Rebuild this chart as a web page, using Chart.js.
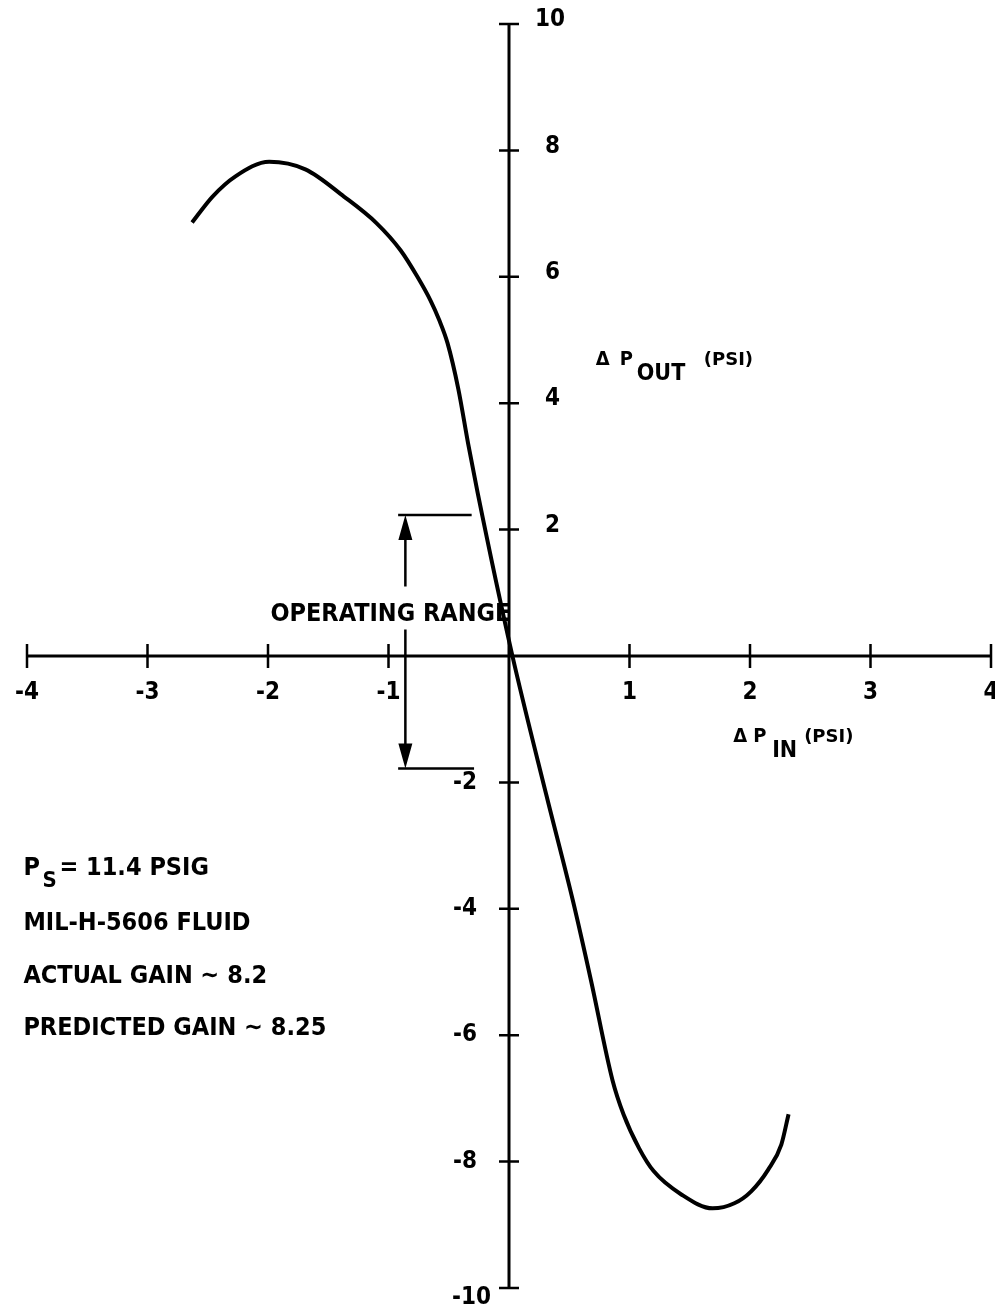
<!DOCTYPE html>
<html>
<head>
<meta charset="utf-8">
<script src="https://cdn.jsdelivr.net/npm/chart.js@4.4.1/dist/chart.umd.min.js"></script>
<style>
  html, body { margin: 0; padding: 0; background: #fff; }
  #wrap { width: 995px; height: 1313px; }
</style>
</head>
<body>
<div id="wrap"><canvas id="chart" width="995" height="1313"></canvas></div>
<script>
// curve (delta P in, delta P out)
const pIn = [-2.63, -2.46, -2.27, -1.99, -1.69, -1.37, -1.10, -0.90, -0.76, -0.65,
             -0.58, -0.51, -0.42, -0.34, -0.26, 0.025, 0.31, 0.53, 0.68, 0.86,
             0.95, 1.08, 1.20, 1.43, 1.69, 1.87, 2.01, 2.15, 2.26, 2.32];
const pOut = [6.86, 7.27, 7.59, 7.82, 7.70, 7.27, 6.85, 6.42, 6.00, 5.62,
              5.32, 4.95, 4.22, 3.37, 2.58, 0.03, -2.20, -3.87, -5.13, -6.72,
              -7.25, -7.79, -8.15, -8.52, -8.74, -8.66, -8.47, -8.13, -7.73, -7.25];

const xTicks = [-4, -3, -2, -1, 1, 2, 3, 4];
const yTicks = [-10, -8, -6, -4, -2, 2, 4, 6, 8, 10];

// operating range limits (delta P out)
const rangeTop = 2.23;
const rangeBottom = -1.78;

const notes = ['= 11.4 PSIG', 'MIL-H-5606 FLUID', 'ACTUAL GAIN \u223C 8.2', 'PREDICTED GAIN \u223C 8.25'];

const FONT = '"DejaVu Sans Condensed", "DejaVu Sans", sans-serif';
const WIDE = '"DejaVu Sans", sans-serif';

const points = pIn.map((x, i) => ({ x: x, y: pOut[i] }));

// axes through the origin, ticks, labels and notes
const drawingPlugin = {
    id: 'drawing',
    beforeDatasetsDraw(chart) {
        const ctx = chart.ctx;
        const sx = chart.scales.x, sy = chart.scales.y;
        const px = v => sx.getPixelForValue(v);
        const py = v => sy.getPixelForValue(v);
        const x0 = px(0), y0 = py(0);

        ctx.save();
        ctx.strokeStyle = '#000';
        ctx.fillStyle = '#000';
        ctx.lineWidth = 3;

        // axis lines
        ctx.beginPath();
        ctx.moveTo(px(-4), y0); ctx.lineTo(px(4), y0);
        ctx.moveTo(x0, py(10)); ctx.lineTo(x0, py(-10));
        ctx.stroke();

        // tick marks
        ctx.lineWidth = 2.5;
        ctx.beginPath();
        xTicks.forEach(t => { ctx.moveTo(px(t), y0 - 12); ctx.lineTo(px(t), y0 + 12); });
        yTicks.forEach(t => { ctx.moveTo(x0 - 10, py(t)); ctx.lineTo(x0 + 10, py(t)); });
        ctx.stroke();

        // tick labels
        ctx.font = 'bold 24px ' + FONT;
        ctx.textAlign = 'center';
        ctx.textBaseline = 'top';
        xTicks.forEach(t => ctx.fillText(String(t), px(t), y0 + 25));

        ctx.textBaseline = 'middle';
        yTicks.forEach(t => {
            if (t === 10) {
                ctx.textAlign = 'left';
                ctx.fillText('10', x0 + 26, py(t) - 4);
            } else if (t === -10) {
                ctx.textAlign = 'right';
                ctx.fillText('-10', x0 - 18, py(t) + 10);
            } else if (t > 0) {
                ctx.textAlign = 'left';
                ctx.fillText(String(t), x0 + 36, py(t) - 4);
            } else {
                ctx.textAlign = 'right';
                ctx.fillText(String(t), x0 - 32, py(t));
            }
        });

        // operating range bracket
        const ax = px(-0.86);
        ctx.lineWidth = 2.5;
        ctx.beginPath();
        ctx.moveTo(px(-0.92), py(rangeTop)); ctx.lineTo(px(-0.31), py(rangeTop));
        ctx.moveTo(px(-0.92), py(rangeBottom)); ctx.lineTo(px(-0.29), py(rangeBottom));
        ctx.moveTo(ax, py(rangeTop) + 10); ctx.lineTo(ax, py(1.1));
        ctx.moveTo(ax, py(0.42)); ctx.lineTo(ax, py(rangeBottom) - 10);
        ctx.stroke();
        ctx.beginPath();
        ctx.moveTo(ax, py(rangeTop)); ctx.lineTo(ax - 7, py(rangeTop) + 25); ctx.lineTo(ax + 7, py(rangeTop) + 25);
        ctx.closePath();
        ctx.moveTo(ax, py(rangeBottom)); ctx.lineTo(ax - 7, py(rangeBottom) - 25); ctx.lineTo(ax + 7, py(rangeBottom) - 25);
        ctx.closePath();
        ctx.fill();
        ctx.restore();
    },
    afterDraw(chart) {
        const ctx = chart.ctx;
        const sx = chart.scales.x, sy = chart.scales.y;
        const px = v => sx.getPixelForValue(v);
        const py = v => sy.getPixelForValue(v);

        ctx.save();
        ctx.fillStyle = '#000';
        ctx.textBaseline = 'alphabetic';
        ctx.textAlign = 'left';

        ctx.font = 'bold 25px ' + FONT;
        ctx.fillText('OPERATING RANGE', px(-1.98), py(0.55));

        // axis titles
        let x = px(0.72), y = py(4.6);
        ctx.font = 'bold 20px ' + FONT;
        ctx.fillText('\u0394', x, y);
        ctx.fillText('P', x + 24, y);
        ctx.font = 'bold 23px ' + FONT;
        ctx.fillText('OUT', x + 41, y + 15);
        ctx.font = 'bold 18px ' + WIDE;
        ctx.fillText('(PSI)', x + 108, y);

        x = px(1.86); y = py(-1.36);
        ctx.font = 'bold 20px ' + FONT;
        ctx.fillText('\u0394', x, y);
        ctx.fillText('P', x + 20, y);
        ctx.font = 'bold 23px ' + FONT;
        ctx.fillText('IN', x + 39, y + 15);
        ctx.font = 'bold 18px ' + WIDE;
        ctx.fillText('(PSI)', x + 71, y);

        // notes block
        const nx = px(-4.03);
        const rows = [-3.47, -4.34, -5.18, -6.0];
        ctx.font = 'bold 25px ' + FONT;
        ctx.fillText('P', nx, py(rows[0]));
        ctx.font = 'bold 22px ' + FONT;
        ctx.fillText('S', nx + 19, py(rows[0]) + 12);
        ctx.font = 'bold 25px ' + FONT;
        ctx.fillText(notes[0], nx + 36, py(rows[0]));
        for (let i = 1; i < notes.length; i++) {
            ctx.fillText(notes[i], nx, py(rows[i]));
        }
        ctx.restore();
    }
};

new Chart(document.getElementById('chart'), {
    type: 'scatter',
    data: {
        datasets: [{
            data: points,
            showLine: true,
            borderColor: '#000',
            borderWidth: 4,
            pointRadius: 0,
            cubicInterpolationMode: 'monotone',
            fill: false
        }]
    },
    options: {
        responsive: false,
        animation: false,
        devicePixelRatio: 1,
        layout: { padding: { left: 27, right: 4, top: 24, bottom: 25 } },
        plugins: { legend: { display: false }, tooltip: { enabled: false } },
        scales: {
            x: { type: 'linear', min: -4, max: 4, display: false },
            y: { type: 'linear', min: -10, max: 10, display: false }
        }
    },
    plugins: [drawingPlugin]
});
</script>
</body>
</html>
